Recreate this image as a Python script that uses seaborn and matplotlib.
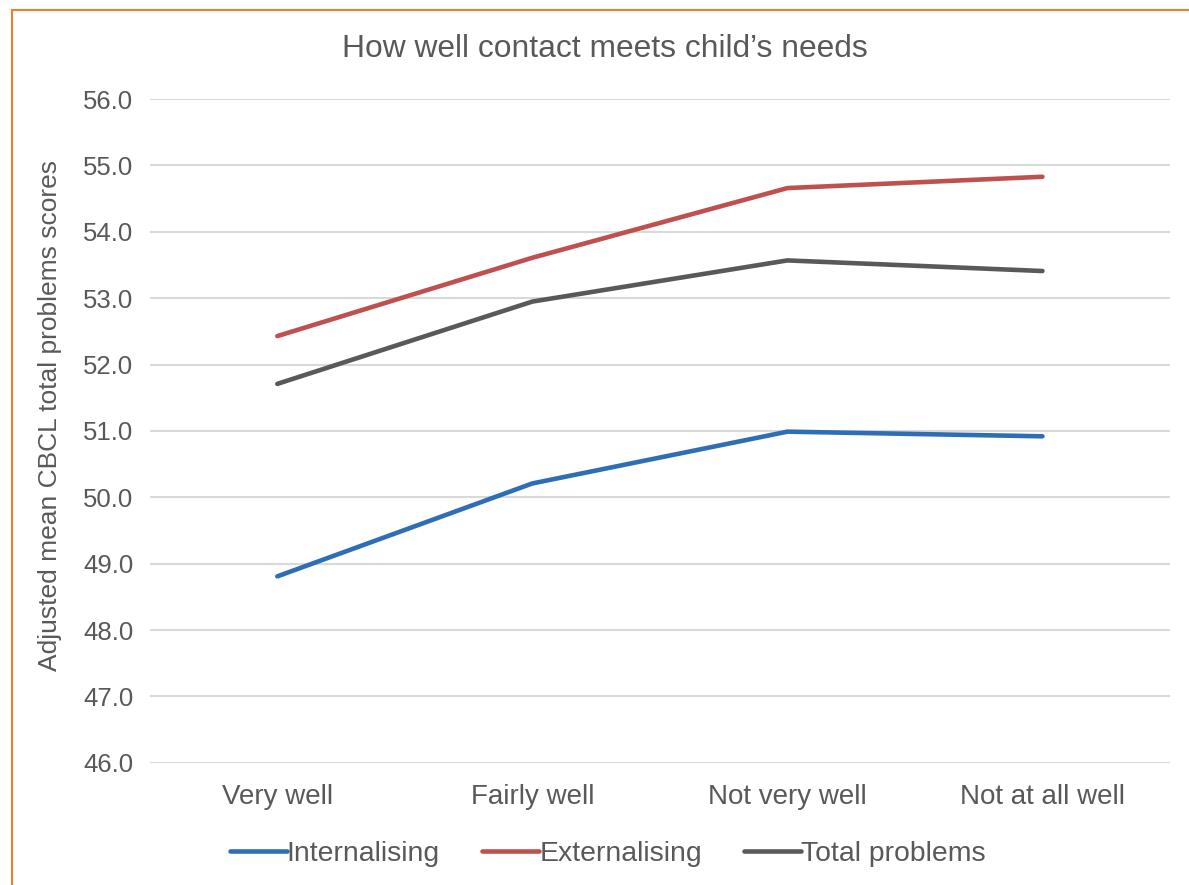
import pandas as pd
import matplotlib.pyplot as plt
import matplotlib.patches as mpatches
import seaborn as sns

categories = ["Very well", "Fairly well", "Not very well", "Not at all well"]
internalising = [48.81, 50.21, 50.99, 50.92]
externalising = [52.43, 53.61, 54.66, 54.83]
total_problems = [51.71, 52.95, 53.57, 53.41]
series_names = ["Internalising", "Externalising", "Total problems"]
y_ticks = [46.0, 47.0, 48.0, 49.0, 50.0, 51.0, 52.0, 53.0, 54.0, 55.0, 56.0]

# long form table for seaborn
rows = []
for name, vals in zip(series_names, [internalising, externalising, total_problems]):
    for i, v in enumerate(vals):
        rows.append({"pos": i, "score": v, "series": name})
df = pd.DataFrame(rows)

sns.set_style("white")
plt.rcParams["font.family"] = ["Liberation Sans", "DejaVu Sans"]
text_col = "#595959"

fig = plt.figure(figsize=(11.89, 8.85), dpi=100)
ax = fig.add_axes([0.126, 0.138, 0.858, 0.750])

palette = {"Internalising": "#2E6EB7", "Externalising": "#C0504D", "Total problems": "#595959"}
sns.lineplot(
    data=df, x="pos", y="score", hue="series", hue_order=series_names,
    palette=palette, linewidth=3.3, ax=ax, legend=True,
    solid_capstyle="round",
)

ax.set_xlim(-0.5, 3.5)
ax.set_ylim(46, 56)
ax.set_yticks(y_ticks)
ax.set_yticklabels([f"{t:.1f}" for t in y_ticks])
ax.set_xticks(range(len(categories)))
ax.set_xticklabels(categories)
ax.grid(axis="y", color="#D9D9D9", linewidth=1.5)
ax.set_axisbelow(True)
for s in ax.spines.values():
    s.set_visible(False)
ax.tick_params(axis="both", length=0, labelsize=18.5, colors=text_col)
ax.tick_params(axis="y", pad=12)
ax.tick_params(axis="x", pad=15, labelsize=20)
ax.set_xlabel("")
ax.set_ylabel("Adjusted mean CBCL total problems scores", fontsize=19,
              color=text_col)
ax.yaxis.set_label_coords(-0.086, 0.524)

# title centred on the whole chart area
fig.text(605 / 1189, 1 - 49 / 885, "How well contact meets child\u2019s needs",
         fontsize=22.9, color=text_col, ha="center", va="center")

leg = ax.legend(
    loc="center", bbox_to_anchor=(0.449, -0.137), ncol=3, frameon=False,
    fontsize=20.4, handlelength=2.0, handletextpad=0.0, columnspacing=1.5,
)
for t in leg.get_texts():
    t.set_color(text_col)
for h in leg.get_lines():
    h.set_linewidth(3.3)
    h.set_solid_capstyle("round")

# orange chart border (left and top edges visible)
fig.patches.append(mpatches.Rectangle(
    (12 / 1189, -0.05), 1.2, 1 - 10 / 885 + 0.05, transform=fig.transFigure,
    fill=False, edgecolor="#ED7D31", linewidth=1.5))

fig.savefig("out.png", dpi=100)
